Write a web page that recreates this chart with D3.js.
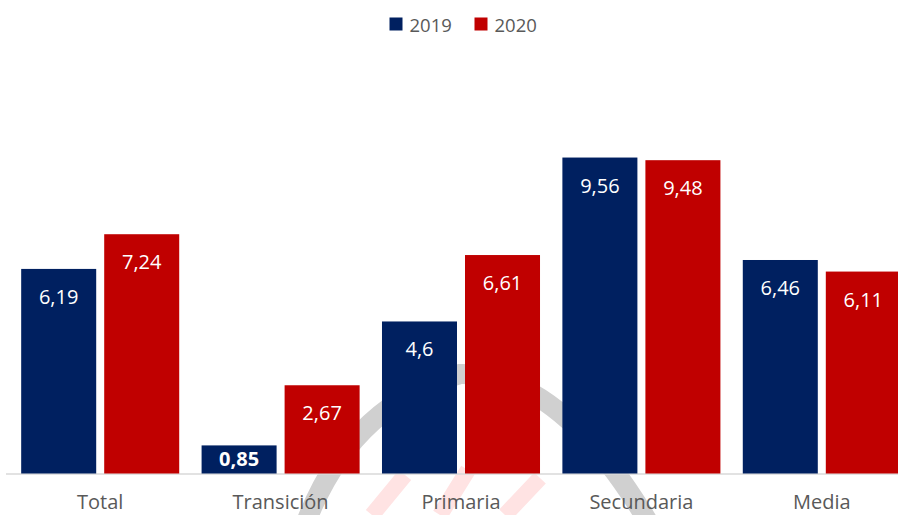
<!DOCTYPE html>
<html>
<head>
<meta charset="utf-8">
<script src="https://cdn.jsdelivr.net/npm/d3@7"></script>
<style>
  body { margin: 0; background: #fff; }
  text { font-family: "Open Sans", "Noto Sans", sans-serif; }
</style>
</head>
<body>
<svg id="chart" width="898" height="515"></svg>
<script>

// data
const categories = ["Total", "Transición", "Primaria", "Secundaria", "Media"];
const series = ["2019", "2020"];
const values2019 = [6.19, 0.85, 4.6, 9.56, 6.46];
const values2020 = [7.24, 2.67, 6.61, 9.48, 6.11];

const colors = { "2019": "#002060", "2020": "#C00000" };

const width = 898;
const height = 515;
const baseline = 473.5;

const svg = d3.select("#chart");

const rows = categories.map((c, i) => ({
    cat: c,
    vals: [
        { key: "2019", value: values2019[i] },
        { key: "2020", value: values2020[i] }
    ]
}));

const x0 = d3.scaleBand()
    .domain(categories)
    .range([10, 912])
    .paddingInner(0.124)
    .paddingOuter(0.062);

const x1 = d3.scaleBand()
    .domain(series)
    .range([0, x0.bandwidth()])
    .paddingInner(0.0964);

const y = d3.scaleLinear()
    .domain([0, 13])
    .range([baseline, baseline - 13 * 33.05]);

const fmt = v => String(v).replace(".", ",");

// faint logo watermark behind the bars
const wm = svg.append("g");
wm.append("path")
    .attr("d", "M 305 525 Q 350 405 460 374 Q 560 372 650 525")
    .attr("fill", "none")
    .attr("stroke", "#d0d0d0")
    .attr("stroke-width", 20);
wm.append("path")
    .attr("d", "M 372 515 L 405 475 M 440 515 L 468 470 M 505 515 L 540 478")
    .attr("fill", "none")
    .attr("stroke", "#ffe3e3")
    .attr("stroke-width", 16);

// baseline
svg.append("line")
    .attr("x1", 6)
    .attr("x2", width)
    .attr("y1", baseline + 0.5)
    .attr("y2", baseline + 0.5)
    .attr("stroke", "#d9d9d9")
    .attr("stroke-width", 1.5);

const groups = svg.selectAll("g.cat")
    .data(rows)
    .enter()
    .append("g")
    .attr("class", "cat")
    .attr("transform", d => `translate(${x0(d.cat)},0)`);

groups.selectAll("rect")
    .data(d => d.vals)
    .enter()
    .append("rect")
    .attr("x", d => x1(d.key))
    .attr("y", d => y(d.value))
    .attr("width", x1.bandwidth())
    .attr("height", d => y(0) - y(d.value))
    .attr("fill", d => colors[d.key]);

groups.selectAll("text.val")
    .data(d => d.vals)
    .enter()
    .append("text")
    .attr("class", "val")
    .attr("x", d => x1(d.key) + x1.bandwidth() / 2)
    .attr("y", d => {
        let h = y(0) - y(d.value);
        // short bars: put the label in the middle, bold
        return h < 40 ? y(d.value) + h / 2 + 7 : y(d.value) + 35;
    })
    .attr("text-anchor", "middle")
    .attr("fill", "#fff")
    .style("font-size", "20px")
    .style("font-weight", d => (y(0) - y(d.value)) < 40 ? "bold" : "normal")
    .text(d => fmt(d.value));

// category labels
svg.selectAll("text.cat")
    .data(categories)
    .enter()
    .append("text")
    .attr("class", "cat")
    .attr("x", d => x0(d) + x0.bandwidth() / 2)
    .attr("y", 509)
    .attr("text-anchor", "middle")
    .attr("fill", "#595959")
    .style("font-size", "20px")
    .text(d => d);

// legend
const legend = svg.append("g");
const legendX = [389.5, 474.5];
series.forEach((s, i) => {
    legend.append("rect")
        .attr("x", legendX[i])
        .attr("y", 17.5)
        .attr("width", 13)
        .attr("height", 13)
        .attr("fill", colors[s]);
    legend.append("text")
        .attr("x", legendX[i] + 20)
        .attr("y", 31.5)
        .attr("fill", "#595959")
        .style("font-size", "18.5px")
        .text(s);
});

</script>
</body>
</html>
